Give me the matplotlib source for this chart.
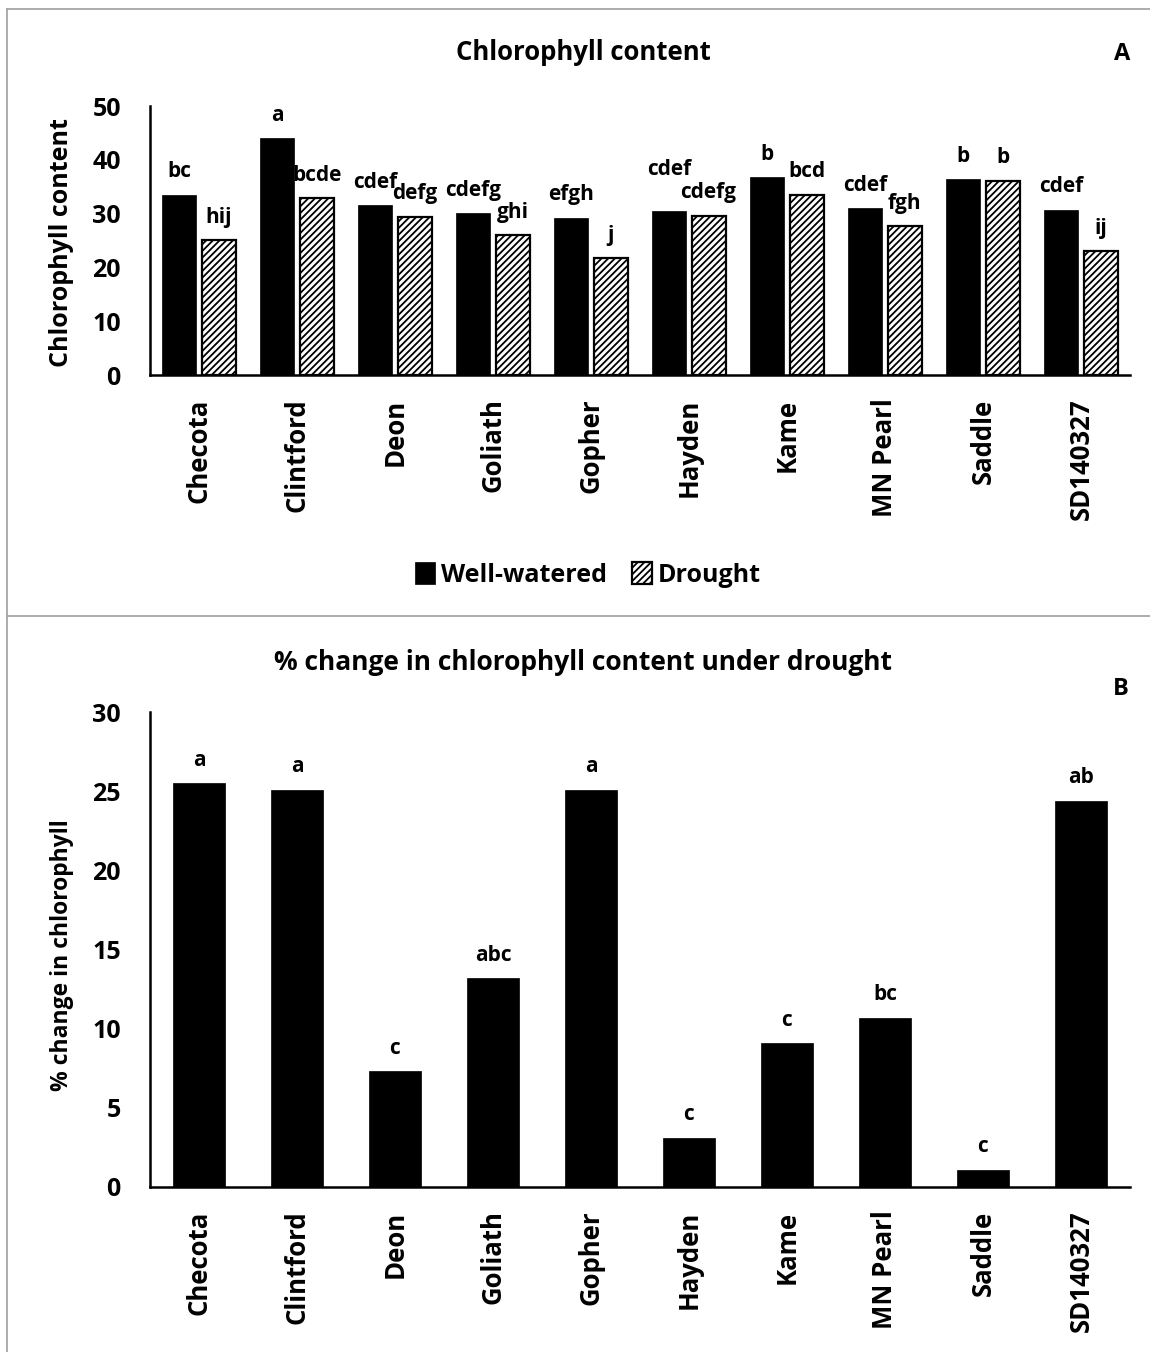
import numpy as np
import matplotlib.pyplot as plt
from matplotlib.lines import Line2D

plt.rcParams['font.family'] = ['Open Sans', 'DejaVu Sans']
plt.rcParams['font.weight'] = 'bold'
plt.rcParams['hatch.linewidth'] = 1.3

cultivars = ['Checota', 'Clintford', 'Deon', 'Goliath', 'Gopher',
             'Hayden', 'Kame', 'MN Pearl', 'Saddle', 'SD140327']
well_watered = [33.5, 44.0, 31.6, 30.1, 29.2, 30.5, 36.8, 31.0, 36.4, 30.7]
drought = [25.1, 32.9, 29.4, 26.0, 21.7, 29.6, 33.5, 27.7, 36.1, 23.0]
ww_letters = ['bc', 'a', 'cdef', 'cdefg', 'efgh', 'cdef', 'b', 'cdef', 'b', 'cdef']
dr_letters = ['hij', 'bcde', 'defg', 'ghi', 'j', 'cdefg', 'bcd', 'fgh', 'b', 'ij']
pct_change = [25.5, 25.1, 7.3, 13.2, 25.1, 3.1, 9.1, 10.7, 1.1, 24.4]
pct_letters = ['a', 'a', 'c', 'abc', 'a', 'c', 'c', 'bc', 'c', 'ab']

W, H = 1150, 1352
fig = plt.figure(figsize=(W / 100, H / 100), dpi=100)
x = np.arange(len(cultivars))


def style_axis(ax, ymax, step):
    ax.set_xlim(-0.5, len(cultivars) - 0.5)
    ax.set_ylim(0, ymax)
    ax.set_yticks(np.arange(0, ymax + 1, step))
    ax.set_xticks(x)
    ax.set_xticklabels(cultivars, rotation=90, fontsize=18.5, fontweight='bold')
    ax.tick_params(axis='y', length=0, pad=21, labelsize=18)
    ax.tick_params(axis='x', length=0, pad=17)
    for s in ['top', 'right']:
        ax.spines[s].set_visible(False)
    for s in ['left', 'bottom']:
        ax.spines[s].set_linewidth(1.8)
    ax.patch.set_alpha(0)


# panel A
axA = fig.add_axes([150 / W, 1 - 375 / H, 980 / W, 269 / H])
b1 = axA.bar(x - 0.2, well_watered, width=0.345, color='black', edgecolor='black',
             linewidth=0.5, label='Well-watered')
b2 = axA.bar(x + 0.2, drought, width=0.345, color='white', edgecolor='black',
             linewidth=1.6, hatch='/////', label='Drought')
style_axis(axA, 50, 10)
for i in range(len(cultivars)):
    up = 29.5 if cultivars[i] == 'Hayden' else 16.5
    axA.annotate(ww_letters[i], (x[i] - 0.2, well_watered[i]), xytext=(0, up),
                 textcoords='offset points', ha='center', va='center', fontsize=15)
    axA.annotate(dr_letters[i], (x[i] + 0.2, drought[i]), xytext=(0, 16.5),
                 textcoords='offset points', ha='center', va='center', fontsize=15)
fig.legend(handles=[b1, b2], loc='center', bbox_to_anchor=(588 / W, 1 - 575 / H),
           ncol=2, frameon=False, fontsize=18, handlelength=0.8, handleheight=1.0,
           handletextpad=0.25, columnspacing=1.0)

fig.text(583 / W, 1 - 52 / H, 'Chlorophyll content', ha='center', va='center', fontsize=18.5)
fig.text(1122 / W, 1 - 54 / H, 'A', ha='center', va='center', fontsize=17)
fig.text(62 / W, 1 - 243 / H, 'Chlorophyll content', rotation=90, ha='center',
         va='center', fontsize=18)

# panel B
axB = fig.add_axes([150 / W, 1 - 1187 / H, 980 / W, 475 / H])
axB.bar(x, pct_change, width=0.54, color='black', edgecolor='black', linewidth=0.5)
style_axis(axB, 30, 5)
for i in range(len(cultivars)):
    axB.annotate(pct_letters[i], (x[i], pct_change[i]), xytext=(0, 16.5),
                 textcoords='offset points', ha='center', va='center', fontsize=15)

fig.text(583 / W, 1 - 663 / H, '% change in chlorophyll content under drought',
         ha='center', va='center', fontsize=19)
fig.text(1121 / W, 1 - 689 / H, 'B', ha='center', va='center', fontsize=17)
fig.text(62 / W, 1 - 955 / H, '% change in chlorophyll', rotation=90, ha='center',
         va='center', fontsize=16.5)

# panel frames
for xs, ys in [([7 / W, 1], [1 - 9 / H, 1 - 9 / H]),
               ([7 / W, 7 / W], [0, 1 - 9 / H]),
               ([7 / W, 1], [1 - 616 / H, 1 - 616 / H])]:
    fig.add_artist(Line2D(xs, ys, color='#A6A6A6', linewidth=1.3))

plt.savefig('out.png', dpi=100)
